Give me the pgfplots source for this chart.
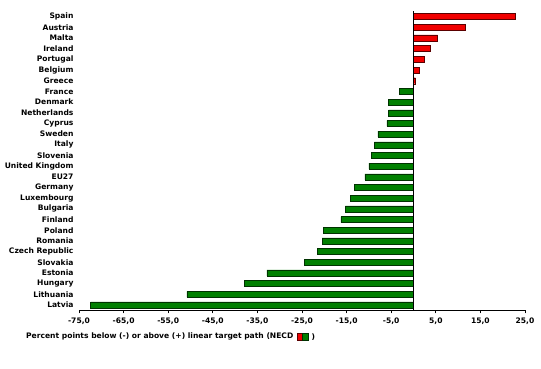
\documentclass[border=0pt]{standalone}
\usepackage{pgfplots}
\pgfplotsset{compat=1.18}
\usepackage{fontspec}
\setmainfont{DejaVu Sans}
\definecolor{barred}{RGB}{240,0,0}
\definecolor{bargreen}{RGB}{0,128,0}
\definecolor{edgered}{RGB}{90,0,0}
\definecolor{edgegreen}{RGB}{0,50,0}
\newcommand{\lblfont}{\fontsize{7.6}{9}\selectfont\bfseries}
\begin{document}
\begin{tikzpicture}[x=1bp,y=1bp]
\path[use as bounding box] (0,0) rectangle (541,368);
\begin{axis}[
  at={(79bp,57.7bp)}, anchor=south west,
  scale only axis, width=446bp, height=299bp,
  xmin=-75, xmax=25, ymin=-0.5, ymax=27.5,
  y dir=reverse,
  axis x line=bottom, axis y line=left,
  y axis line style={draw=none},
  x axis line style={black, line width=0.8pt, -},
  xtick={-75,-65,...,25},
  xtick align=outside,
  major tick length=3bp,
  x tick style={black, line width=0.8pt},
  xticklabel style={font=\lblfont, yshift=-1bp},
  /pgf/number format/.cd, fixed, fixed zerofill, precision=1, use comma, assume math mode=true,
  /pgfplots/.cd,
  ytick={0,...,27},
  yticklabels={Spain,Austria,Malta,Ireland,Portugal,Belgium,Greece,France,Denmark,Netherlands,Cyprus,Sweden,Italy,Slovenia,United Kingdom,EU27,Germany,Luxembourg,Bulgaria,Finland,Poland,Romania,Czech Republic,Slovakia,Estonia,Hungary,Lithuania,Latvia},
  yticklabel style={font=\lblfont, xshift=1bp},
  y tick style={draw=none},
  xbar, bar width=6bp, bar shift=0pt,
  clip=false,
]
\addplot[xbar, bar shift=0pt, fill=barred, draw=edgered, line width=0.4pt] coordinates {
 (22.7,0) (11.5,1) (5.4,2) (3.8,3) (2.5,4) (1.3,5) (0.4,6)
};
\addplot[xbar, bar shift=0pt, fill=bargreen, draw=edgegreen, line width=0.4pt] coordinates {
 (-3.1,7) (-5.6,8) (-5.6,9) (-6.0,10) (-8.0,11) (-8.8,12) (-9.5,13) (-10.0,14)
 (-10.9,15) (-13.2,16) (-14.2,17) (-15.3,18) (-16.3,19) (-20.2,20) (-20.5,21)
 (-21.6,22) (-24.4,23) (-32.9,24) (-38.0,25) (-50.8,26) (-72.4,27)
};
\draw[black, line width=0.8pt] (axis cs:0,-0.5) -- (axis cs:0,27.5);
\end{axis}
\node[anchor=west, inner sep=0pt, font=\lblfont] (leg) at (26,368-336.7) {Percent points below (-) or above (+) linear target path (NECD};
\fill[barred, draw=edgered, line width=0.4pt] ([xshift=3.5bp,yshift=-3.5bp]leg.east) rectangle ++(5.5,7);
\fill[bargreen, draw=edgegreen, line width=0.4pt] ([xshift=9bp,yshift=-3.5bp]leg.east) rectangle ++(5.5,7);
\node[anchor=west, inner sep=0pt, font=\lblfont] at ([xshift=18bp]leg.east) {)};
\end{tikzpicture}
\end{document}
